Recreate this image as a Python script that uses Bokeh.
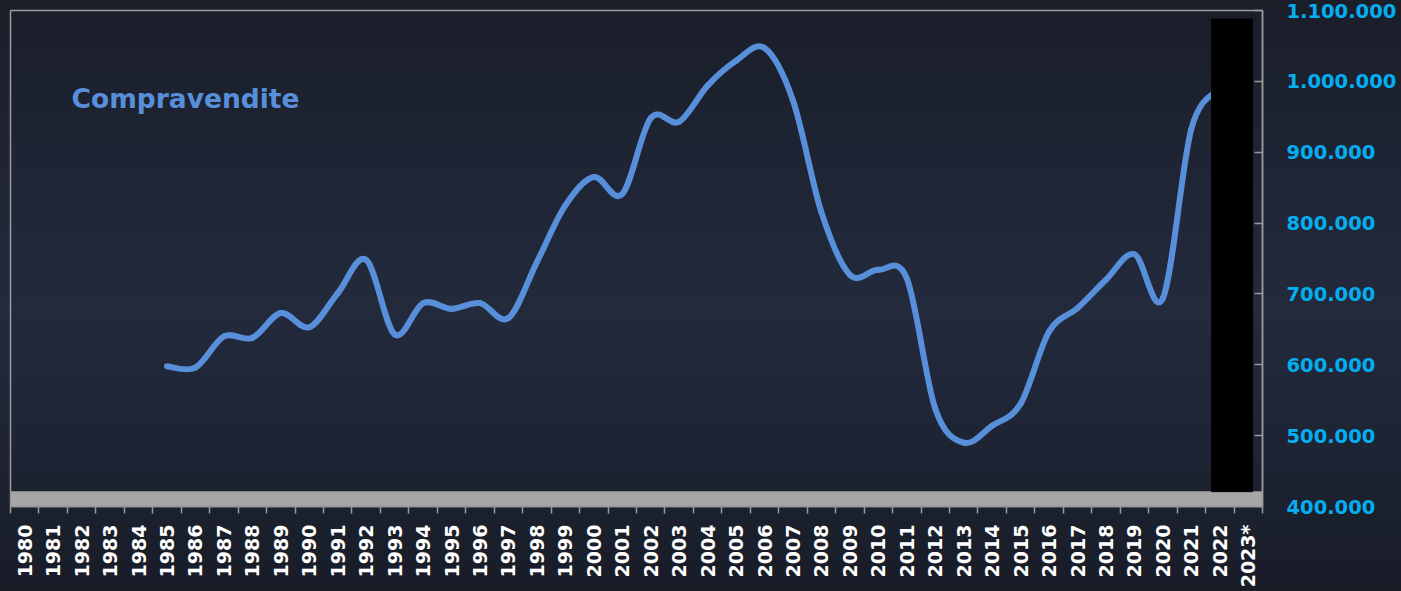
import re
import math
import numpy as np
from bokeh.plotting import figure
from bokeh.models import Range1d, FixedTicker, Label, CustomJSTickFormatter
from bokeh.embed import file_html
from bokeh.resources import INLINE

# ---------------- data ----------------
categories = [str(y) for y in range(1980, 2023)] + ["2023*"]
line_years = [str(y) for y in range(1985, 2023)]
compravendite = [598000, 596000, 640000, 638000, 673000, 653000, 701000, 748000,
                 643000, 687000, 679000, 687000, 666000, 745000, 825000, 865000,
                 841000, 948000, 943000, 994000, 1029000, 1047000, 973000, 815000,
                 727000, 734000, 722000, 538000, 490000, 514000, 545000, 647000,
                 680000, 720000, 756000, 694000, 933000, 990000]
bar_category = "2023*"
bar_value = 1088000
y_ticks = [400000, 500000, 600000, 700000, 800000, 900000, 1000000, 1100000]
y_min, y_max = 400000, 1100000
floor_top = 421000
series_name = "Compravendite"

# ---------------- figure ----------------
n_cat = len(categories)
p = figure(width=1401, height=591, output_backend="svg", toolbar_location=None,
           x_range=Range1d(0, n_cat), y_range=Range1d(y_min, y_max),
           y_axis_location="right", min_border_left=10, min_border_top=10,
           min_border_bottom=85, min_border_right=139)
p.background_fill_alpha = 0
p.border_fill_alpha = 0
p.outline_line_color = "#9a9a9a"
p.outline_line_width = 1.5
p.grid.visible = False

# floor band
p.quad(left=0, right=n_cat, bottom=y_min, top=floor_top,
       fill_color="#a6a6a6", line_color="#8a8a8a", line_width=1)

# smoothed line (Catmull-Rom -> cubic Bezier)
xs = np.array([categories.index(y) + 0.5 for y in line_years], dtype=float)
ys = np.array(compravendite, dtype=float)
n = len(xs)
x0, y0, x1, y1, cx0, cy0, cx1, cy1 = ([] for _ in range(8))
for i in range(n - 1):
    ip = max(i - 1, 0)
    inn = min(i + 2, n - 1)
    x0.append(xs[i]); y0.append(ys[i])
    x1.append(xs[i + 1]); y1.append(ys[i + 1])
    cx0.append(xs[i] + (xs[i + 1] - xs[ip]) / 6.0)
    cy0.append(ys[i] + (ys[i + 1] - ys[ip]) / 6.0)
    cx1.append(xs[i + 1] - (xs[inn] - xs[i]) / 6.0)
    cy1.append(ys[i + 1] - (ys[inn] - ys[i]) / 6.0)
p.bezier(x0=x0, y0=y0, x1=x1, y1=y1, cx0=cx0, cy0=cy0, cx1=cx1, cy1=cy1,
         line_color="#588FDA", line_width=6, line_cap="round")

# black column (drawn over the line)
bar_idx = categories.index(bar_category)
p.vbar(x=[bar_idx + 0.5 - 0.57], width=1.44, bottom=floor_top, top=[bar_value],
       fill_color="black", line_color="black")

# x axis: labels at centers, ticks at boundaries
xa = p.xaxis[0]
xa.ticker = FixedTicker(ticks=[i + 0.5 for i in range(n_cat)],
                        minor_ticks=list(range(n_cat + 1)))
xa.formatter = CustomJSTickFormatter(args=dict(labels=categories),
                                     code="return labels[Math.floor(tick)] || '';")
xa.major_label_orientation = math.pi / 2
xa.major_tick_out = 0
xa.major_tick_in = 0
xa.minor_tick_out = 7
xa.minor_tick_in = 0
xa.minor_tick_line_color = "#9a9a9a"
xa.minor_tick_line_width = 1.5
xa.axis_line_color = "#9a9a9a"
xa.axis_line_width = 1.5
xa.major_label_text_color = "white"
xa.major_label_text_font = "DejaVu Sans"
xa.major_label_text_font_style = "bold"
xa.major_label_text_font_size = "19px"
xa.major_label_standoff = 11

# y axis on the right
ya = p.yaxis[0]
ya.ticker = FixedTicker(ticks=y_ticks)
ya.major_label_overrides = {v: f"{v:,}".replace(",", ".") for v in y_ticks}
ya.major_tick_in = 8
ya.major_tick_out = 0
ya.minor_tick_in = 0
ya.minor_tick_out = 0
ya.major_tick_line_color = "#9a9a9a"
ya.major_tick_line_width = 1.5
ya.axis_line_color = "#9a9a9a"
ya.axis_line_width = 1.5
ya.major_label_text_color = "#05AEF0"
ya.major_label_text_font = "DejaVu Sans"
ya.major_label_text_font_style = "bold"
ya.major_label_text_font_size = "19.5px"
ya.major_label_standoff = 24

# series title
p.add_layout(Label(x=61, y=408, x_units="screen", y_units="screen",
                   text=series_name, text_color="#588FDA",
                   text_font="DejaVu Sans", text_font_style="bold",
                   text_font_size="26.5px", text_baseline="alphabetic"))

page_style = ("<style>html{background:linear-gradient(to bottom, #1a1e29 0%, "
              "#1f2535 30%, #222a3c 52%, #1e2434 75%, #181c27 100%) fixed;"
              "min-height:100%;}body{background:transparent;}</style>")
html = file_html(p, INLINE)
html = re.sub(r"</head>", lambda m: page_style + "</head>", html, count=1)
open("out.html", "w").write(html)
